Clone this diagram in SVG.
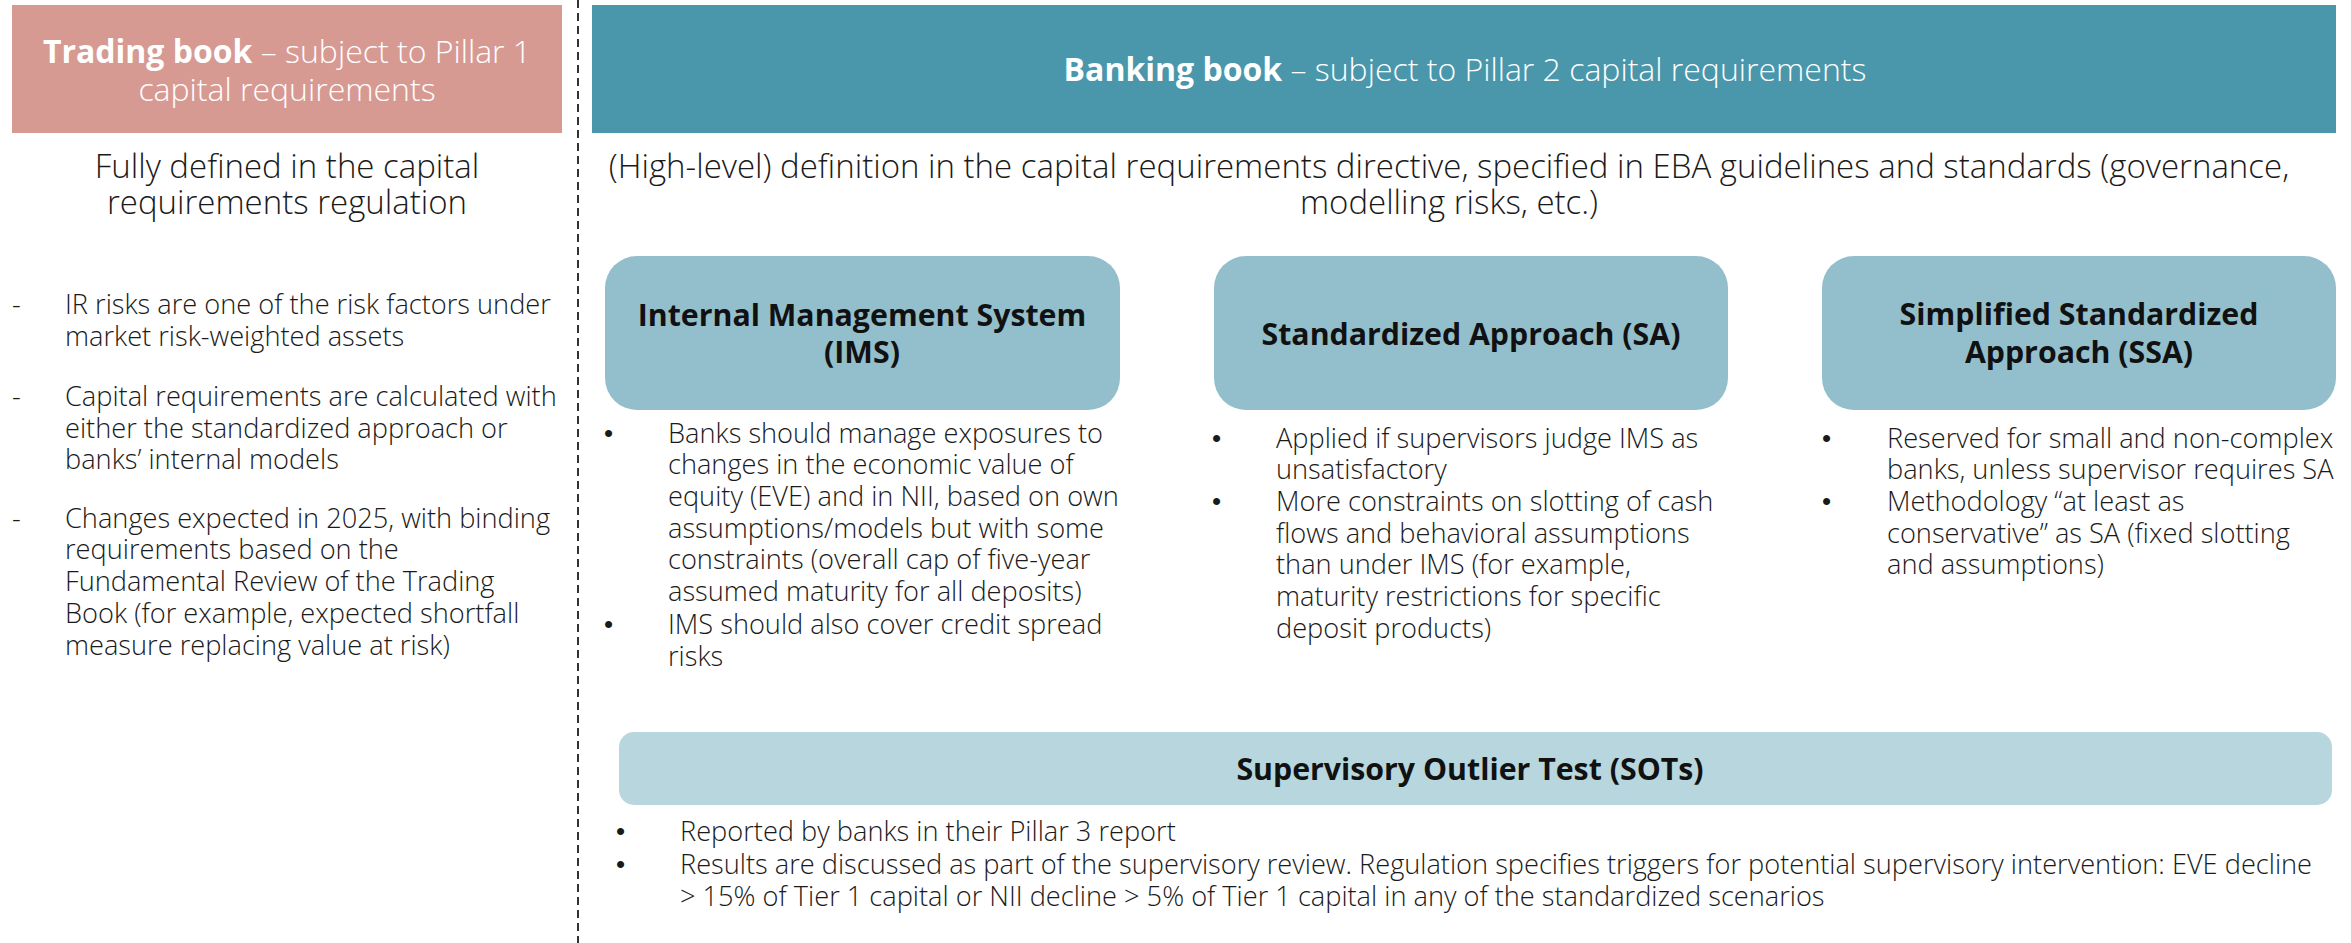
<svg xmlns="http://www.w3.org/2000/svg" width="2351" height="943" viewBox="0 0 2351 943">
  <style>
    .hdr { font-family: "Open Sans", "Liberation Sans", sans-serif; font-size: 32px; fill: #ffffff; font-weight: 300; }
    .hdr .b { font-weight: 700; }
    .sub { font-family: "Open Sans", "Liberation Sans", sans-serif; font-size: 33px; fill: #1a1a1a; font-weight: 300; text-anchor: middle; }
    .body { font-family: "Open Sans", "Liberation Sans", sans-serif; font-size: 27.2px; fill: #1a1a1a; font-weight: 300; }
    .body .dot { font-family: "Liberation Sans", sans-serif; font-size: 26px; }
    .ttl { font-family: "Open Sans", "Liberation Sans", sans-serif; font-size: 30.3px; fill: #111111; font-weight: 700; text-anchor: middle; }
    .approach { fill: #93bfcc; }
    .sot { fill: #b7d6de; }
  </style>

  <!-- Split between trading book and banking book -->
  <g id="connectors">
    <line x1="578" y1="0" x2="578" y2="943" stroke="#333333" stroke-width="2" stroke-dasharray="8 5"/>
  </g>

  <!-- Trading book column -->
  <g id="trading-book">
    <rect x="12" y="5" width="550" height="128" fill="#d79a93"/>
    <text class="hdr" text-anchor="middle" x="287" y="63"><tspan class="b">Trading book</tspan> – subject to Pillar 1</text>
    <text class="hdr" text-anchor="middle" x="287" y="101">capital requirements</text>
  </g>
  <g id="trading-definition">
    <text class="sub" x="287" y="178">Fully defined in the capital</text>
    <text class="sub" x="287" y="214">requirements regulation</text>
  </g>
  <g id="trading-notes" class="body">
    <text x="12" y="314">-</text>
    <text x="65" y="314">IR risks are one of the risk factors under</text>
    <text x="65" y="346">market risk-weighted assets</text>
    <text x="12" y="406">-</text>
    <text x="65" y="406">Capital requirements are calculated with</text>
    <text x="65" y="438">either the standardized approach or</text>
    <text x="65" y="469">banks’ internal models</text>
    <text x="12" y="528">-</text>
    <text x="65" y="528">Changes expected in 2025, with binding</text>
    <text x="65" y="559">requirements based on the</text>
    <text x="65" y="591">Fundamental Review of the Trading</text>
    <text x="65" y="623">Book (for example, expected shortfall</text>
    <text x="65" y="655">measure replacing value at risk)</text>
  </g>

  <!-- Banking book column -->
  <g id="banking-book">
    <rect x="592" y="5" width="1744" height="128" fill="#4a97ab"/>
    <text class="hdr" text-anchor="middle" x="1465" y="81"><tspan class="b">Banking book</tspan> – subject to Pillar 2 capital requirements</text>
  </g>
  <g id="banking-definition">
    <text class="sub" x="1449" y="178">(High-level) definition in the capital requirements directive, specified in EBA guidelines and standards (governance,</text>
    <text class="sub" x="1449" y="214">modelling risks, etc.)</text>
  </g>

  <!-- Internal Management System -->
  <g id="ims">
    <rect class="approach" x="605" y="256" width="515" height="154" rx="32"/>
    <text class="ttl" x="862" y="326">Internal Management System</text>
    <text class="ttl" x="862" y="363">(IMS)</text>
    <g class="body">
      <text class="dot" x="604" y="442">•</text>
      <text x="668" y="443">Banks should manage exposures to</text>
      <text x="668" y="474">changes in the economic value of</text>
      <text x="668" y="506">equity (EVE) and in NII, based on own</text>
      <text x="668" y="538">assumptions/models but with some</text>
      <text x="668" y="569">constraints (overall cap of five-year</text>
      <text x="668" y="601">assumed maturity for all deposits)</text>
      <text class="dot" x="604" y="633">•</text>
      <text x="668" y="634">IMS should also cover credit spread</text>
      <text x="668" y="666">risks</text>
    </g>
  </g>

  <!-- Standardized Approach -->
  <g id="sa">
    <rect class="approach" x="1214" y="256" width="514" height="154" rx="32"/>
    <text class="ttl" x="1471" y="345">Standardized Approach (SA)</text>
    <g class="body">
      <text class="dot" x="1212" y="447">•</text>
      <text x="1276" y="448">Applied if supervisors judge IMS as</text>
      <text x="1276" y="479">unsatisfactory</text>
      <text class="dot" x="1212" y="510">•</text>
      <text x="1276" y="511">More constraints on slotting of cash</text>
      <text x="1276" y="543">flows and behavioral assumptions</text>
      <text x="1276" y="574">than under IMS (for example,</text>
      <text x="1276" y="606">maturity restrictions for specific</text>
      <text x="1276" y="638">deposit products)</text>
    </g>
  </g>

  <!-- Simplified Standardized Approach -->
  <g id="ssa">
    <rect class="approach" x="1822" y="256" width="514" height="154" rx="32"/>
    <text class="ttl" x="2079" y="325">Simplified Standardized</text>
    <text class="ttl" x="2079" y="363">Approach (SSA)</text>
    <g class="body">
      <text class="dot" x="1822" y="447">•</text>
      <text x="1887" y="448">Reserved for small and non-complex</text>
      <text x="1887" y="479">banks, unless supervisor requires SA</text>
      <text class="dot" x="1822" y="510">•</text>
      <text x="1887" y="511">Methodology “at least as</text>
      <text x="1887" y="543">conservative” as SA (fixed slotting</text>
      <text x="1887" y="574">and assumptions)</text>
    </g>
  </g>

  <!-- Supervisory Outlier Test -->
  <g id="sot">
    <rect class="sot" x="619" y="732" width="1713" height="73" rx="15"/>
    <text class="ttl" x="1470" y="780">Supervisory Outlier Test (SOTs)</text>
    <g class="body">
      <text class="dot" x="616" y="840">•</text>
      <text x="680" y="841">Reported by banks in their Pillar 3 report</text>
      <text class="dot" x="616" y="873">•</text>
      <text x="680" y="874">Results are discussed as part of the supervisory review. Regulation specifies triggers for potential supervisory intervention: EVE decline</text>
      <text x="680" y="906">&gt; 15% of Tier 1 capital or NII decline &gt; 5% of Tier 1 capital in any of the standardized scenarios</text>
    </g>
  </g>
</svg>
